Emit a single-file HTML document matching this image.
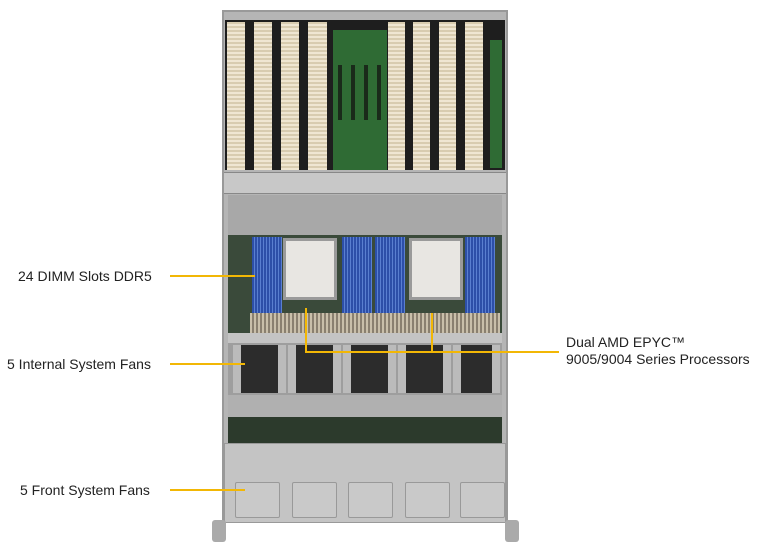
<!DOCTYPE html>
<html><head><style>
body{margin:0;width:766px;height:550px;background:#fff;position:relative;overflow:hidden;font-family:"Liberation Sans",sans-serif}
div{position:absolute;box-sizing:border-box}
.t{font-size:14px;color:#222;white-space:nowrap}
.y{background:#f2b705}
.card{background:repeating-linear-gradient(#d8ccb0 0 2px,#efe6d2 2px 4px);top:22px;height:148px}
.blue{background:repeating-linear-gradient(90deg,#2d4fa8 0 2px,#5a7fd0 2px 3px);top:237px;height:76px}
.fan{top:345px;height:48px;width:52px;background:#2c2c2c;border-left:8px solid #bbb;border-right:8px solid #bbb}
.vent{top:482px;height:36px;width:45px;border:1px solid #999;background:#c9c9c9;border-radius:2px}
</style></head><body>
<!-- chassis -->
<div style="left:222px;top:10px;width:286px;height:512px;background:#b5b5b5;border:2px solid #999"></div>
<div style="left:225px;top:20px;width:280px;height:150px;background:#1e1e1e"></div>
<div class="card" style="left:227px;width:18px"></div>
<div class="card" style="left:254px;width:18px"></div>
<div class="card" style="left:281px;width:18px"></div>
<div class="card" style="left:308px;width:19px"></div>
<div style="left:333px;top:30px;width:54px;height:140px;background:#2f6b34"></div>
<div style="left:340px;top:65px;width:4px;height:55px;background:#1a2a1a;left:338px"></div>
<div style="left:351px;top:65px;width:4px;height:55px;background:#1a2a1a"></div>
<div style="left:364px;top:65px;width:4px;height:55px;background:#1a2a1a"></div>
<div style="left:377px;top:65px;width:4px;height:55px;background:#1a2a1a"></div>
<div class="card" style="left:388px;width:17px"></div>
<div class="card" style="left:413px;width:17px"></div>
<div class="card" style="left:439px;width:17px"></div>
<div class="card" style="left:465px;width:18px"></div>
<div style="left:490px;top:40px;width:12px;height:128px;background:#2f6b34"></div>
<div style="left:224px;top:172px;width:282px;height:22px;background:#c8c8c8;border-top:1px solid #888;border-bottom:1px solid #888"></div>
<div style="left:228px;top:195px;width:274px;height:40px;background:#a8a8a8"></div>
<div style="left:228px;top:235px;width:274px;height:98px;background:#3a4a3a"></div>
<div class="blue" style="left:252px;width:30px"></div>
<div class="blue" style="left:342px;width:30px"></div>
<div class="blue" style="left:375px;width:30px"></div>
<div class="blue" style="left:465px;width:30px"></div>
<div style="left:283px;top:238px;width:54px;height:62px;background:#e8e6e2;border:3px solid #9a9a9a"></div>
<div style="left:409px;top:238px;width:54px;height:62px;background:#e8e6e2;border:3px solid #9a9a9a"></div>
<div style="left:250px;top:313px;width:250px;height:20px;background:repeating-linear-gradient(90deg,#c9bfaa 0 2px,#8a8070 2px 4px)"></div>
<div style="left:228px;top:333px;width:274px;height:10px;background:#c4c4c4"></div>
<div style="left:228px;top:343px;width:274px;height:52px;background:#9e9e9e"></div>
<div class="fan" style="left:233px;width:53px"></div>
<div class="fan" style="left:288px;width:53px"></div>
<div class="fan" style="left:343px;width:53px"></div>
<div class="fan" style="left:398px;width:53px"></div>
<div class="fan" style="left:453px;width:47px"></div>
<div style="left:228px;top:395px;width:274px;height:22px;background:#b0b0b0"></div>
<div style="left:228px;top:417px;width:274px;height:28px;background:#2c3a2c"></div>
<div style="left:224px;top:443px;width:282px;height:80px;background:#c4c4c4;border:1px solid #999"></div>
<div class="vent" style="left:235px"></div>
<div class="vent" style="left:292px"></div>
<div class="vent" style="left:348px"></div>
<div class="vent" style="left:405px"></div>
<div class="vent" style="left:460px"></div>
<div style="left:212px;top:520px;width:14px;height:22px;background:#aaa;border-radius:3px"></div>
<div style="left:505px;top:520px;width:14px;height:22px;background:#aaa;border-radius:3px"></div>
<!-- callouts -->
<div class="t" style="left:18px;top:268px">24 DIMM Slots DDR5</div>
<div class="y" style="left:170px;top:275px;width:85px;height:2px"></div>
<div class="t" style="left:7px;top:356px">5 Internal System Fans</div>
<div class="y" style="left:170px;top:363px;width:75px;height:2px"></div>
<div class="t" style="left:20px;top:482px">5 Front System Fans</div>
<div class="y" style="left:170px;top:489px;width:75px;height:2px"></div>
<div class="y" style="left:305px;top:308px;width:2px;height:45px"></div>
<div class="y" style="left:431px;top:313px;width:2px;height:40px"></div>
<div class="y" style="left:305px;top:351px;width:254px;height:2px"></div>
<div class="t" style="left:566px;top:334px">Dual AMD EPYC™</div>
<div class="t" style="left:566px;top:351px">9005/9004 Series Processors</div>
</body></html>
